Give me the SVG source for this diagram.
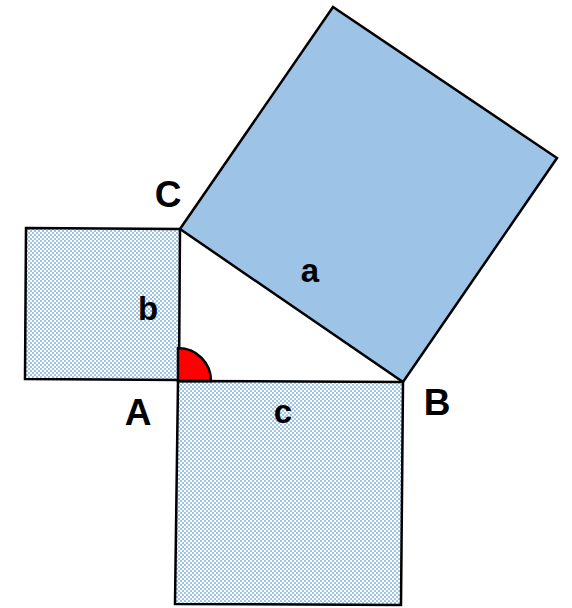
<svg xmlns="http://www.w3.org/2000/svg" width="572" height="608" viewBox="0 0 572 608">
<defs>
<pattern id="chk" width="4" height="4" patternUnits="userSpaceOnUse">
<rect x="0" y="0" width="2" height="2" fill="#9DC3E6"/>
<rect x="2" y="2" width="2" height="2" fill="#9DC3E6"/>
</pattern>
<style>
.sq{stroke:#000;stroke-width:2.5;stroke-linejoin:miter}
.lbl{font-family:"Liberation Sans",Arial,sans-serif;font-weight:bold;font-size:37px;fill:#000;text-anchor:middle}
.lc{font-size:33px}
</style>
</defs>
<rect width="572" height="608" fill="#fff"/>
<g id="square-a"><polygon class="sq" points="180,229 403,382 557,158 333,7" fill="#9DC3E6"/></g>
<g id="square-b"><polygon class="sq" points="26,228 180,229 179,380 25,379" fill="url(#chk)"/></g>
<g id="square-c"><polygon class="sq" points="178,381 403,382 401,605 175,604" fill="url(#chk)"/></g>
<g id="angle-A"><path class="sq" d="M178,381 L178,348 A33,33 0 0 1 211,381 Z" fill="#FF0000"/></g>
<g id="labels">
<text class="lbl" x="168" y="207">C</text>
<text class="lbl" x="138" y="425">A</text>
<text class="lbl" x="437" y="415">B</text>
<text class="lbl lc" x="310" y="282">a</text>
<text class="lbl lc" x="148" y="320">b</text>
<text class="lbl lc" x="283" y="423">c</text>
</g>
</svg>
